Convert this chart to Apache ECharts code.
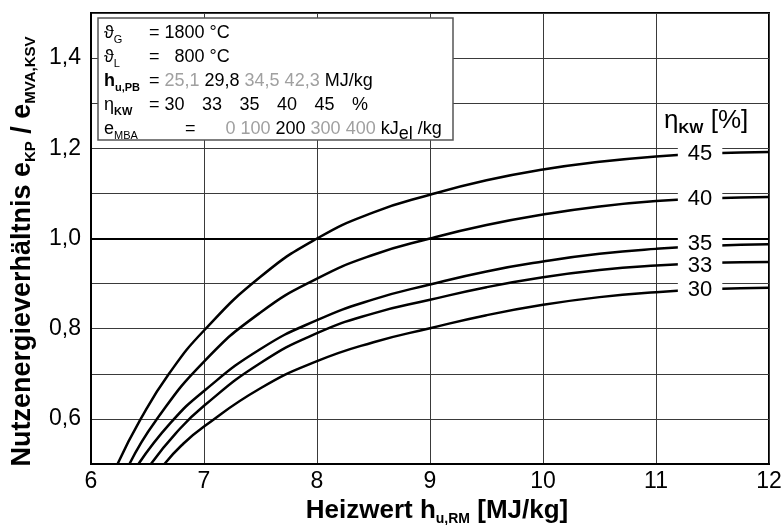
<!DOCTYPE html>
<html>
<head>
<meta charset="utf-8">
<script src="https://cdn.jsdelivr.net/npm/echarts@6/dist/echarts.min.js"></script>
<style>
  html, body { margin: 0; padding: 0; background: #fff; }
  #chart { width: 784px; height: 525px; }
</style>
</head>
<body>
<div id="chart"></div>
<script>
// Kurven je Kraftwerkswirkungsgrad (η_KW in %), Punkte [h_u,RM, e_KP/e_MVA]
const etaKW = [45, 40, 35, 33, 30];
const curve45 = [[6.235, 0.5], [6.44, 0.6], [6.69, 0.7], [7, 0.796], [7.5, 0.915], [8, 1.0], [8.5, 1.058], [9, 1.097], [9.5, 1.129], [10, 1.153], [10.5, 1.17], [11, 1.182], [11.5, 1.189], [12, 1.192]];
const curve40 = [[6.34, 0.5], [6.57, 0.595], [7, 0.727], [7.5, 0.836], [8, 0.911], [8.5, 0.964], [9, 1.0], [9.5, 1.03], [10, 1.053], [10.5, 1.071], [11, 1.083], [11.5, 1.089], [12, 1.092]];
const curve35 = [[6.42, 0.5], [6.7, 0.59], [7, 0.662], [7.5, 0.755], [8, 0.819], [8.5, 0.865], [9, 0.898], [9.5, 0.927], [10, 0.949], [10.5, 0.966], [11, 0.977], [11.5, 0.984], [12, 0.987]];
const curve33 = [[6.53, 0.5], [6.75, 0.568], [7, 0.629], [7.5, 0.724], [8, 0.79], [8.5, 0.834], [9, 0.864], [9.5, 0.892], [10, 0.914], [10.5, 0.93], [11, 0.94], [11.5, 0.946], [12, 0.948]];
const curve30 = [[6.65, 0.5], [6.8, 0.541], [7, 0.583], [7.5, 0.668], [8, 0.728], [8.5, 0.77], [9, 0.801], [9.5, 0.83], [10, 0.853], [10.5, 0.87], [11, 0.881], [11.5, 0.888], [12, 0.891]];
const curves = [curve45, curve40, curve35, curve33, curve30];

// Legendenkasten
const hPB = ['25,1', '29,8', '34,5', '42,3'];
const hPBSel = 1;
const etaRow = [30, 33, 35, 40, 45];
const eMBA = ['0', '100', '200', '300', '400'];
const eMBASel = 2;

const LABEL_X = 11.39;
const FONT = 'Liberation Sans, Arial, sans-serif';

function valueAt(pts, x) {
  for (let i = 1; i < pts.length; i++) {
    if (x <= pts[i][0]) {
      const t = (x - pts[i - 1][0]) / (pts[i][0] - pts[i - 1][0]);
      return pts[i - 1][1] + t * (pts[i][1] - pts[i - 1][1]);
    }
  }
  return pts[pts.length - 1][1];
}

// Beschriftungen auf der Kurve, etwas auseinandergeschoben
const labelVals = curves.map(c => valueAt(c, LABEL_X));
for (let i = 1; i < labelVals.length; i++) {
  const gap = labelVals[i - 1] - labelVals[i];
  if (gap < 0.05) {
    const d = (0.05 - gap) / 2;
    labelVals[i - 1] += d;
    labelVals[i] -= d;
  }
}

const chart = echarts.init(document.getElementById('chart'));

const series = curves.map((c, i) => ({
  name: String(etaKW[i]),
  type: 'line',
  data: c,
  smooth: 0.5,
  showSymbol: false,
  silent: true,
  lineStyle: { color: '#000', width: 2.5 },
  z: 3
}));
series[0].markLine = {
  silent: true,
  symbol: 'none',
  label: { show: false },
  lineStyle: { color: '#000', width: 2, type: 'solid' },
  data: [{ yAxis: 1.0 }]
};
series.push({
  type: 'scatter',
  silent: true,
  symbolSize: 1,
  itemStyle: { color: '#fff', opacity: 1 },
  z: 10,
  data: etaKW.map((e, i) => [LABEL_X, labelVals[i], e]),
  label: {
    show: true,
    position: 'inside',
    align: 'center',
    verticalAlign: 'middle',
    formatter: p => String(p.value[2]),
    color: '#000',
    opacity: 1,
    textBorderWidth: 0,
    fontSize: 22,
    fontFamily: FONT,
    lineHeight: 20,
    backgroundColor: '#fff',
    padding: [0, 10]
  }
});

const subStyle = { fontSize: 11, fontFamily: FONT, fill: '#000', lineHeight: 12, verticalAlign: 'bottom' };
const leftRich = {
  g: { fontSize: 18, fontFamily: FONT, fill: '#000', lineHeight: 24 },
  hb: { fontSize: 18, fontFamily: FONT, fontWeight: 'bold', fill: '#000', lineHeight: 24 },
  s: subStyle,
  sb: Object.assign({}, subStyle, { fontWeight: 'bold' })
};
const rightRich = {
  k: { fontSize: 18, fontFamily: FONT, fill: '#000', lineHeight: 28 },
  gr: { fontSize: 18, fontFamily: FONT, fill: '#a0a0a0', lineHeight: 28 },
  w: { fontSize: 18, fontFamily: FONT, fill: '#000', lineHeight: 28, width: 37.5 },
  el: { fontSize: 18, fontFamily: FONT, fill: '#000', lineHeight: 18, verticalAlign: 'bottom' }
};
const rowY = [33, 57, 81.5, 105.5, 129];
const leftTexts = ['{g|ϑ}{s|G}', '{g|ϑ}{s|L}', '{hb|h}{sb|u,PB}', '{g|η}{sb|KW}', '{g|e}{s|MBA}'];
const rightTexts = [
  '{k|= 1800 °C}',
  '{k|=   800 °C}',
  '{k|= }' + hPB.map((v, i) => '{' + (i === hPBSel ? 'k' : 'gr') + '|' + v + '}').join('{k| }') + '{k| MJ/kg}',
  '{k|= }' + etaRow.map(v => '{w|' + v + '}').join('') + '{k|%}',
  '{k|=      }' + eMBA.map((v, i) => '{' + (i === eMBASel ? 'k' : 'gr') + '|' + v + '}').join('{k| }') + '{k| kJ}{el|el}{k| /kg}'
];
const rightX = [149, 149, 149, 149, 185];

const graphic = [{
  type: 'rect',
  z: 100,
  shape: { x: 98, y: 18, width: 355, height: 122 },
  style: { fill: '#fff', stroke: '#555', lineWidth: 1.5 }
}];
rowY.forEach((y, i) => {
  graphic.push({
    type: 'text', z: 101, x: 104, y: y,
    style: { text: leftTexts[i], rich: leftRich, verticalAlign: 'middle', align: 'left', font: '18px ' + FONT, fill: '#000' }
  });
  graphic.push({
    type: 'text', z: 101, x: rightX[i], y: y,
    style: { text: rightTexts[i], rich: rightRich, verticalAlign: 'middle', align: 'left', font: '18px ' + FONT, fill: '#000' }
  });
});
graphic.push({
  type: 'text', z: 101, x: 664, y: 121,
  style: {
    text: '{g|η}{kw|KW}{g| [%]}',
    verticalAlign: 'middle', align: 'left',
    rich: {
      g: { fontSize: 26, fontFamily: FONT, fill: '#000', lineHeight: 30 },
      kw: { fontSize: 15, fontFamily: FONT, fontWeight: 'bold', fill: '#000', lineHeight: 18, verticalAlign: 'bottom' }
    }
  }
});

const titleRich = {
  b: { fontSize: 27, fontFamily: FONT, fontWeight: 'bold', color: '#000', lineHeight: 32 },
  s: { fontSize: 15, fontFamily: FONT, fontWeight: 'bold', color: '#000', lineHeight: 17, verticalAlign: 'bottom' }
};
const xTitleRich = {
  b: { fontSize: 26, fontFamily: FONT, fontWeight: 'bold', color: '#000', lineHeight: 30 },
  s: { fontSize: 14, fontFamily: FONT, fontWeight: 'bold', color: '#000', lineHeight: 16, verticalAlign: 'bottom' }
};

chart.setOption({
  animation: false,
  backgroundColor: '#fff',
  grid: {
    left: 91, right: 15, top: 13, bottom: 61,
    show: true, borderColor: '#000', borderWidth: 2,
    outerBoundsMode: 'none'
  },
  xAxis: {
    type: 'value', min: 6, max: 12, interval: 1,
    axisLine: { show: true, onZero: false, lineStyle: { color: '#000', width: 2 } },
    axisTick: { show: false },
    axisLabel: { color: '#000', fontSize: 23, fontFamily: FONT, margin: 6 },
    splitLine: { show: true, lineStyle: { color: '#3a3a3a', width: 1 } },
    name: '{b|Heizwert h}{s|u,RM}{b| [MJ/kg]}',
    nameLocation: 'middle',
    nameGap: 32,
    nameTextStyle: { rich: xTitleRich, padding: [0, 0, 0, 14] }
  },
  yAxis: {
    type: 'value', min: 0.5, max: 1.5, interval: 0.1,
    axisLine: { show: true, onZero: false, lineStyle: { color: '#000', width: 2 } },
    axisTick: { show: false },
    axisLabel: {
      color: '#000', fontSize: 23, fontFamily: FONT, margin: 10,
      formatter: v => {
        const k = Math.round(v * 10);
        return (k % 2 === 0 && k > 5 && k < 15) ? (k / 10).toFixed(1).replace('.', ',') : '';
      }
    },
    splitLine: { show: true, lineStyle: { color: '#3a3a3a', width: 1 } },
    name: '{b|Nutzenergieverhältnis e}{s|KP}{b| / e}{s|MVA,KSV}',
    nameLocation: 'middle',
    nameRotate: 90,
    nameGap: 50,
    nameTextStyle: { rich: titleRich, padding: [0, 26, 0, 0] }
  },
  series: series,
  graphic: graphic
});
</script>
</body>
</html>
